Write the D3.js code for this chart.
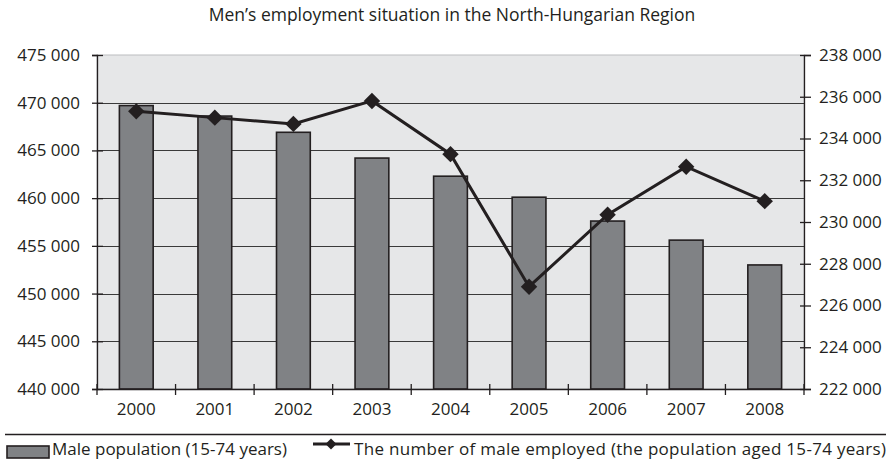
<!DOCTYPE html>
<html>
<head>
<meta charset="utf-8">
<script src="https://d3js.org/d3.v7.min.js"></script>
<style>
  body { margin: 0; background: #fff; }
  text { font-family: "Open Sans", sans-serif; fill: #231f20; }
</style>
</head>
<body>
<svg width="889" height="460"></svg>
<script>
    // data
    const years = ["2000", "2001", "2002", "2003", "2004", "2005", "2006", "2007", "2008"];
    const malePopulation = [469700, 468600, 466900, 464200, 462300, 460100, 457600, 455600, 453000];
    const maleEmployed = [235300, 235000, 234700, 235800, 233250, 226900, 230350, 232650, 231000];
    const leftTicks = [440000, 445000, 450000, 455000, 460000, 465000, 470000, 475000];
    const rightTicks = [222000, 224000, 226000, 228000, 230000, 232000, 234000, 236000, 238000];

    const title = "Men\u2019s employment situation in the North-Hungarian Region";
    const barLabel = "Male population (15-74 years)";
    const lineLabel = "The number of male employed (the population aged 15-74 years)";

    const ink = "#231f20";
    const plot = {left: 97, right: 804, top: 55, bottom: 389};

    const svg = d3.select("svg");
    const fmt = d => d3.format(",")(d).replace(",", " ");

    const x = d3.scaleBand()
        .domain(years)
        .range([plot.left, plot.right]);

    const yL = d3.scaleLinear()
        .domain([440000, 475000])
        .range([plot.bottom, plot.top]);

    const yR = d3.scaleLinear()
        .domain([222000, 238000])
        .range([plot.bottom, plot.top]);

    // title
    svg.append("text")
        .attr("x", 452)
        .attr("y", 21)
        .attr("text-anchor", "middle")
        .style("font-size", "17.5px")
        .text(title);

    // plot background
    svg.append("rect")
        .attr("x", plot.left)
        .attr("y", plot.top)
        .attr("width", plot.right - plot.left)
        .attr("height", plot.bottom - plot.top)
        .attr("fill", "#e6e7e8")
        .attr("stroke", "#bcbec0")
        .attr("stroke-width", 1);

    // grid lines
    svg.append("g")
        .selectAll("line")
        .data(leftTicks.filter(d => d > 440000 && d < 475000))
        .enter()
        .append("line")
        .attr("x1", plot.left)
        .attr("x2", plot.right)
        .attr("y1", d => Math.round(yL(d)) + 0.5)
        .attr("y2", d => Math.round(yL(d)) + 0.5)
        .attr("stroke", "#3a3a3a")
        .attr("stroke-width", 1.2);

    // bars
    const bw = x.bandwidth() * 0.43;
    svg.append("g")
        .selectAll("rect")
        .data(years)
        .enter()
        .append("rect")
        .attr("x", d => x(d) + (x.bandwidth() - bw) / 2)
        .attr("y", (d, i) => yL(malePopulation[i]))
        .attr("width", bw)
        .attr("height", (d, i) => yL(440000) - yL(malePopulation[i]))
        .attr("fill", "#808285")
        .attr("stroke", ink)
        .attr("stroke-width", 1.6);

    // left axis
    const gL = svg.append("g")
        .attr("transform", "translate(" + plot.left + ",0)")
        .call(d3.axisLeft(yL).tickValues(leftTicks).tickFormat(fmt).tickSizeOuter(0).tickSize(5).tickPadding(12));
    gL.selectAll(".tick line").attr("x2", -5).attr("x1", 6);
    gL.select(".domain").attr("stroke", ink).attr("stroke-width", 1.3);
    gL.selectAll(".tick line").attr("stroke", ink).attr("stroke-width", 1.3);
    gL.selectAll("text").style("font-size", "17px").attr("fill", ink).attr("font-family", null);

    // right axis
    const gR = svg.append("g")
        .attr("transform", "translate(" + plot.right + ",0)")
        .call(d3.axisRight(yR).tickValues(rightTicks).tickFormat(fmt).tickSizeOuter(0).tickSize(7).tickPadding(8));
    gR.selectAll(".tick line").attr("x1", -4);
    gR.select(".domain").attr("stroke", ink).attr("stroke-width", 1.3);
    gR.selectAll(".tick line").attr("stroke", ink).attr("stroke-width", 1.3);
    gR.selectAll("text").style("font-size", "17px").attr("fill", ink).attr("font-family", null);

    // bottom axis, ticks on the band boundaries
    const gB = svg.append("g")
        .attr("transform", "translate(0," + plot.bottom + ")")
        .call(d3.axisBottom(x).tickSize(0).tickPadding(14));
    gB.select(".domain").attr("stroke", ink).attr("stroke-width", 1.3);
    gB.selectAll("text").style("font-size", "17px").attr("fill", ink).attr("font-family", null);
    gB.selectAll(".sep")
        .data(d3.range(years.length + 1))
        .enter()
        .append("line")
        .attr("class", "sep")
        .attr("x1", i => plot.left + i * x.step())
        .attr("x2", i => plot.left + i * x.step())
        .attr("y1", -5)
        .attr("y2", 6)
        .attr("stroke", ink)
        .attr("stroke-width", 1.3);

    // employed line
    const cx = d => x(d) + x.bandwidth() / 2;
    const line = d3.line()
        .x(d => cx(d))
        .y((d, i) => yR(maleEmployed[i]));

    svg.append("path")
        .datum(years)
        .attr("d", line)
        .attr("fill", "none")
        .attr("stroke", ink)
        .attr("stroke-width", 3);

    const diamond = d3.symbol().type(d3.symbolSquare).size(135);
    svg.append("g")
        .selectAll("path")
        .data(years)
        .enter()
        .append("path")
        .attr("d", diamond)
        .attr("transform", (d, i) => "translate(" + cx(d) + "," + yR(maleEmployed[i]) + ") rotate(45)")
        .attr("fill", ink);

    // legend
    svg.append("line")
        .attr("x1", 5)
        .attr("x2", 886)
        .attr("y1", 434.5)
        .attr("y2", 434.5)
        .attr("stroke", ink)
        .attr("stroke-width", 1.3);

    svg.append("rect")
        .attr("x", 7)
        .attr("y", 446)
        .attr("width", 42)
        .attr("height", 12)
        .attr("fill", "#808285")
        .attr("stroke", ink)
        .attr("stroke-width", 1.6);

    svg.append("text")
        .attr("x", 52)
        .attr("y", 455)
        .style("font-size", "17px")
        .text(barLabel);

    svg.append("line")
        .attr("x1", 313)
        .attr("x2", 350)
        .attr("y1", 444)
        .attr("y2", 444)
        .attr("stroke", ink)
        .attr("stroke-width", 3);

    svg.append("path")
        .attr("d", d3.symbol().type(d3.symbolSquare).size(60))
        .attr("transform", "translate(331,444) rotate(45)")
        .attr("fill", ink);

    svg.append("text")
        .attr("x", 354)
        .attr("y", 455)
        .style("font-size", "17px")
        .style("letter-spacing", "0.3px")
        .text(lineLabel);
</script>
</body>
</html>
